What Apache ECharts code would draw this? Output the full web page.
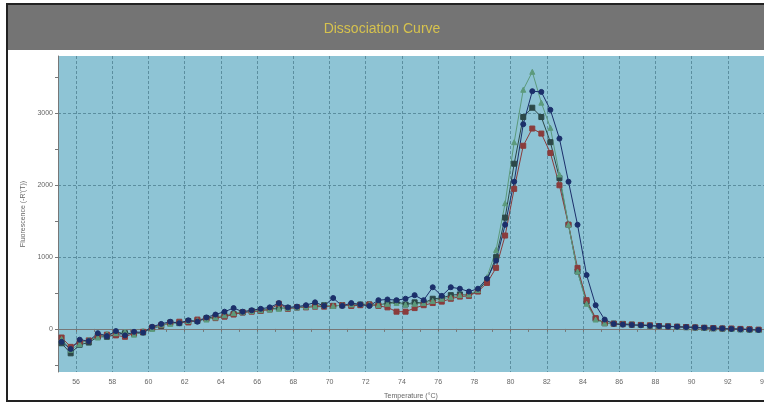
<!DOCTYPE html>
<html>
<head>
<meta charset="utf-8">
<title>Dissociation Curve</title>
<script src="https://cdn.jsdelivr.net/npm/echarts@6/dist/echarts.min.js"></script>
<style>
  html, body { margin: 0; padding: 0; background: #fff; overflow: hidden; }
  #chart { width: 100vw; height: 100vh; }
</style>
</head>
<body>
<div id="chart"></div>
<script>
// melt temperatures (°C), one reading every 0.5 degree
const temps = [
  55.2, 55.7, 56.2, 56.7, 57.2, 57.7, 58.2, 58.7, 59.2, 59.7,
  60.2, 60.7, 61.2, 61.7, 62.2, 62.7, 63.2, 63.7, 64.2, 64.7,
  65.2, 65.7, 66.2, 66.7, 67.2, 67.7, 68.2, 68.7, 69.2, 69.7,
  70.2, 70.7, 71.2, 71.7, 72.2, 72.7, 73.2, 73.7, 74.2, 74.7,
  75.2, 75.7, 76.2, 76.7, 77.2, 77.7, 78.2, 78.7, 79.2, 79.7,
  80.2, 80.7, 81.2, 81.7, 82.2, 82.7, 83.2, 83.7, 84.2, 84.7,
  85.2, 85.7, 86.2, 86.7, 87.2, 87.7, 88.2, 88.7, 89.2, 89.7,
  90.2, 90.7, 91.2, 91.7, 92.2, 92.7, 93.2, 93.7
]

// -R'(T) per well
const wellNavy = [
  -180, -280, -150, -170, -60, -100, -30, -90, -40, -50,
  30, 70, 100, 80, 120, 100, 160, 200, 240, 290,
  240, 260, 280, 300, 360, 300, 310, 330, 370, 320,
  430, 320, 360, 340, 320, 400, 410, 400, 420, 470,
  400, 580, 460, 580, 560, 520, 560, 700, 950, 1450,
  2050, 2850, 3310, 3300, 3050, 2650, 2050, 1450, 750, 330,
  130, 70, 60, 55, 50, 45, 40, 35, 30, 25,
  20, 15, 10, 5, 0, -5, -10, -15
]
const wellRed = [
  -120, -250, -180, -160, -100, -80, -90, -110, -60, -40,
  20, 50, 80, 100, 90, 130, 140, 150, 170, 200,
  230, 240, 250, 270, 350, 280, 300, 300, 310, 310,
  320, 330, 320, 330, 340, 320, 300, 240, 240, 290,
  330, 360, 380, 420, 450, 460, 520, 640, 850, 1300,
  1950, 2550, 2790, 2720, 2450, 2000, 1450, 850, 400, 150,
  80, 70, 65, 60, 55, 50, 40, 35, 30, 25,
  20, 15, 10, 5, 5, 0, -5, -10
]
const wellGreen = [
  -140, -290, -210, -150, -120, -70, -60, -40, -80, -30,
  0, 60, 70, 90, 110, 120, 130, 160, 190, 220,
  240, 250, 260, 270, 280, 290, 300, 310, 320, 330,
  320, 330, 340, 350, 340, 330, 350, 360, 340, 350,
  360, 390, 420, 440, 470, 480, 540, 720, 1100, 1750,
  2600, 3330, 3580, 3150, 2800, 2150, 1450, 800, 350, 130,
  80, 75, 70, 65, 55, 50, 45, 40, 30, 25,
  20, 15, 10, 5, 0, -5, -10, -15
]
const wellSlate = [
  -200, -340, -220, -190, -110, -110, -80, -60, -70, -50,
  10, 40, 90, 80, 110, 110, 150, 170, 180, 210,
  230, 250, 260, 280, 290, 290, 300, 310, 320, 330,
  320, 330, 330, 340, 340, 330, 360, 380, 340, 370,
  360, 420, 430, 470, 480, 470, 530, 680, 1000, 1550,
  2300, 2950, 3080, 2950, 2600, 2100, 1450, 800, 380, 140,
  80, 75, 70, 60, 55, 45, 40, 35, 30, 25,
  20, 15, 10, 5, 0, -5, -10, -15
]

// axis ticks
const xTicks = [56, 57, 58, 59, 60, 61, 62, 63, 64, 65, 66, 67, 68, 69, 70, 71, 72, 73, 74, 75,
  76, 77, 78, 79, 80, 81, 82, 83, 84, 85, 86, 87, 88, 89, 90, 91, 92, 93, 94]
const xLabels = [56, 58, 60, 62, 64, 66, 68, 70, 72, 74, 76, 78, 80, 82, 84, 86, 88, 90, 92, 94]
const yTicks = [-500, 0, 500, 1000, 1500, 2000, 2500, 3000, 3500]
const yLabels = [0, 1000, 2000, 3000]

const chart = echarts.init(document.getElementById("chart"))

const labelStyle = { color: "#666", fontSize: 7, fontFamily: "Liberation Sans" }
const gridLine = { show: true, lineStyle: { color: "#5b8e9f", type: [3, 2], width: 1 } }

function well(name, data, color, symbol) {
  return {
    name,
    type: "line",
    data: temps.map((t, i) => [t, data[i]]),
    symbol,
    symbolSize: 5,
    showAllSymbol: true,
    lineStyle: { color, width: 1 },
    itemStyle: { color, borderColor: color },
    animation: false,
  }
}

chart.setOption({
  backgroundColor: "#fff",
  title: {
    text: "Dissociation Curve",
    left: "center",
    top: 17,
    textStyle: { color: "#d6c24e", fontSize: 14, fontWeight: "normal", fontFamily: "Liberation Sans" },
  },
  graphic: [
    { type: "rect", z: -10, shape: { x: 7, y: 4, width: 800, height: 397 }, style: { fill: "#fff", stroke: "#222", lineWidth: 2 } },
    { type: "rect", z: -9, shape: { x: 8, y: 5, width: 800, height: 45 }, style: { fill: "#747474" } },
  ],
  grid: {
    left: 58,
    right: 0,
    top: 56,
    bottom: 31,
    outerBoundsMode: "none",
    show: true,
    backgroundColor: "#8ec4d5",
    borderWidth: 0,
  },
  xAxis: [
    {
      type: "value",
      min: 55,
      max: 94,
      name: "Temperature (°C)",
      nameLocation: "middle",
      nameGap: 21,
      nameTextStyle: labelStyle,
      axisLine: { show: true, lineStyle: { color: "#777" } },
      axisTick: { show: true, length: 3, customValues: xTicks, lineStyle: { color: "#777" } },
      axisLabel: { ...labelStyle, margin: 7, customValues: xLabels },
      splitLine: { show: false },
    },
    {
      type: "value",
      min: 55,
      max: 94,
      position: "top",
      axisLine: { show: false },
      axisTick: { show: false, customValues: xLabels },
      axisLabel: { show: false },
      splitLine: gridLine,
    },
  ],
  yAxis: [
    {
      type: "value",
      min: -600,
      max: 3800,
      name: "Fluorescence (-R'(T))",
      nameLocation: "middle",
      nameGap: 23,
      nameTextStyle: labelStyle,
      axisLine: { show: true, lineStyle: { color: "#777" } },
      axisTick: { show: true, length: 3, customValues: yTicks, lineStyle: { color: "#777" } },
      axisLabel: { ...labelStyle, margin: 5, customValues: yLabels, formatter: (v) => String(v) },
      splitLine: { show: false },
    },
    {
      type: "value",
      min: -600,
      max: 3800,
      position: "right",
      axisLine: { show: false },
      axisTick: { show: false, customValues: yLabels },
      axisLabel: { show: false },
      splitLine: gridLine,
    },
  ],
  series: [
    well("Well 4", wellSlate, "#2c4848", "rect"),
    well("Well 2", wellRed, "#8a3c3c", "rect"),
    well("Well 3", wellGreen, "#5c9a7c", "triangle"),
    well("Well 1", wellNavy, "#1b2f6a", "circle"),
  ],
})
</script>
</body>
</html>
